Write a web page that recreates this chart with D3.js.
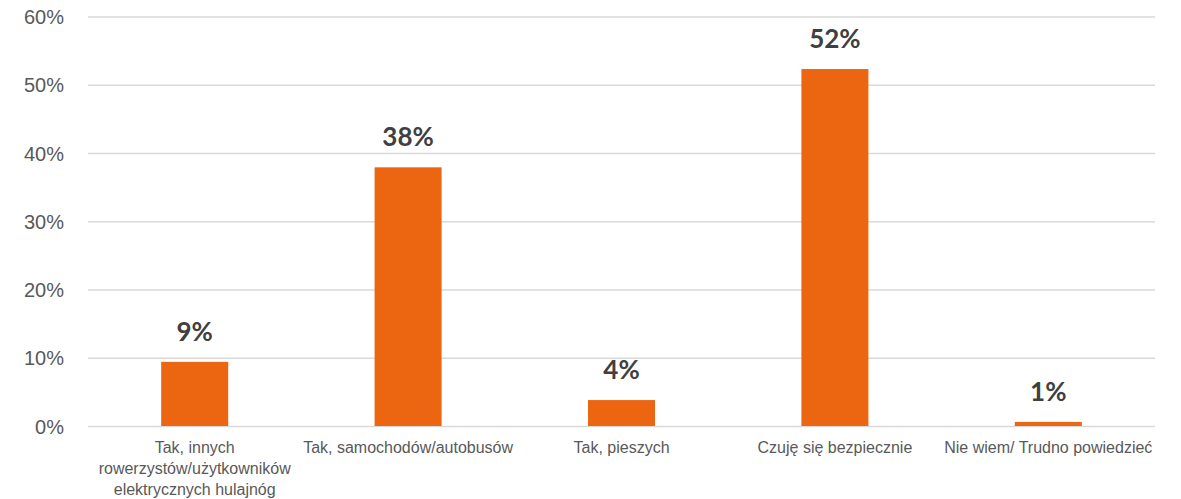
<!DOCTYPE html>
<html>
<head>
<meta charset="utf-8">
<script src="https://cdn.jsdelivr.net/npm/d3@7"></script>
<style>
  body { margin: 0; background: #fff; }
  svg { font-family: Lato, "Open Sans", sans-serif; }
</style>
</head>
<body>
<svg></svg>
<script>
var width = 1181;
var height = 499;

// answers (share of respondents)
var categories = [
    "Tak, innych rowerzystów/użytkowników elektrycznych hulajnóg",
    "Tak, samochodów/autobusów",
    "Tak, pieszych",
    "Czuję się bezpiecznie",
    "Nie wiem/ Trudno powiedzieć"
];
var values = [0.094, 0.379, 0.038, 0.523, 0.006];
var labels = ["9%", "38%", "4%", "52%", "1%"];
var yTicks = [0, 0.1, 0.2, 0.3, 0.4, 0.5, 0.6];

var margin = {top: 16.5, right: 26, bottom: 73, left: 88};

var svg = d3.select("svg")
    .attr("width", width)
    .attr("height", height);

var xScale = d3.scaleBand()
    .domain(categories)
    .range([margin.left, width - margin.right])
    .paddingInner(0.686)
    .paddingOuter(0.343);

var yScale = d3.scaleLinear()
    .domain([0, 0.6])
    .range([height - margin.bottom, margin.top]);

// gridlines + tick labels
var yAxis = d3.axisLeft(yScale)
    .tickValues(yTicks)
    .tickFormat(d3.format(".0%"))
    .tickSize(-(width - margin.left - margin.right))
    .tickPadding(24);

var gy = svg.append("g")
    .attr("transform", "translate(" + margin.left + ",0)")
    .call(yAxis);
gy.select(".domain").remove();
gy.selectAll(".tick line")
    .attr("stroke", "#d9d9d9")
    .attr("stroke-width", 1.3);
gy.selectAll(".tick text")
    .attr("fill", "#595959")
    .style("font-size", "20px")
    .attr("dy", "0.36em");

// bars
svg.selectAll("rect.bar")
    .data(values)
    .enter()
    .append("rect")
        .attr("class", "bar")
        .attr("x", function(d, i) { return xScale(categories[i]); })
        .attr("y", function(d) { return yScale(d); })
        .attr("width", xScale.bandwidth())
        .attr("height", function(d) { return yScale(0) - yScale(d); })
        .attr("fill", "#ec6510");

// value labels
svg.selectAll("text.val")
    .data(values)
    .enter()
    .append("text")
        .attr("class", "val")
        .attr("x", function(d, i) { return xScale(categories[i]) + xScale.bandwidth() / 2; })
        .attr("y", function(d) { return yScale(d) - 21; })
        .attr("text-anchor", "middle")
        .attr("fill", "#404040")
        .style("font-size", "26px")
        .style("font-weight", "bold")
        .text(function(d, i) { return labels[i]; });

// category labels, wrapped to the band step
var xAxis = d3.axisBottom(xScale).tickSize(0).tickPadding(0);
var gx = svg.append("g")
    .attr("transform", "translate(0," + yScale(0) + ")")
    .call(xAxis);
gx.select(".domain").remove();
gx.selectAll(".tick text")
    .attr("fill", "#595959")
    .attr("dy", null)
    .attr("y", null)
    .style("font-size", "16px")
    .call(wrap, xScale.step() + 6);

function wrap(sel, w) {
    sel.each(function() {
        var text = d3.select(this);
        var words = text.text().split(/\s+/);
        var line = [];
        var lineNo = 0;
        text.text(null);
        var tspan = text.append("tspan").attr("x", 0).attr("y", 27);
        words.forEach(function(word) {
            line.push(word);
            tspan.text(line.join(" "));
            if (tspan.node().getComputedTextLength() > w && line.length > 1) {
                line.pop();
                tspan.text(line.join(" "));
                line = [word];
                lineNo++;
                tspan = text.append("tspan")
                    .attr("x", 0)
                    .attr("y", 27 + lineNo * 21)
                    .text(word);
            }
        });
    });
}
</script>
</body>
</html>
